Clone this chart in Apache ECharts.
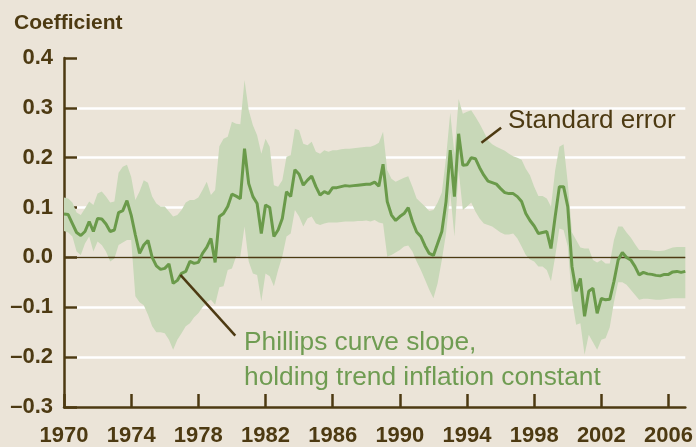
<!DOCTYPE html>
<html>
<head>
<meta charset="utf-8">
<script src="https://cdn.jsdelivr.net/npm/echarts@6/dist/echarts.min.js"></script>
<style>
  html, body { margin: 0; padding: 0; background: #ebe4d8; }
  #chart { width: 696px; height: 447px; }
</style>
</head>
<body>
<div id="chart"></div>
<script>
// quarterly estimates, 1970Q1 .. 2007Q1
const startYear = 1970
const coef = [
  0.087, 0.086, 0.068, 0.05, 0.044, 0.052, 0.072, 0.052, 0.078, 0.077,
  0.067, 0.052, 0.055, 0.09, 0.094, 0.114, 0.085, 0.045, 0.008, 0.025,
  0.034, 0, -0.017, -0.024, -0.022, -0.013, -0.052, -0.046, -0.032, -0.028,
  -0.008, -0.012, -0.01, 0.008, 0.02, 0.038, -0.01, 0.082, 0.088, 0.102,
  0.127, 0.123, 0.118, 0.218, 0.148, 0.122, 0.108, 0.048, 0.105, 0.1,
  0.042, 0.055, 0.078, 0.132, 0.122, 0.176, 0.167, 0.145, 0.155, 0.163,
  0.142, 0.125, 0.132, 0.128, 0.14, 0.14, 0.142, 0.144, 0.143, 0.144,
  0.145, 0.146, 0.147, 0.147, 0.151, 0.143, 0.187, 0.112, 0.085, 0.074,
  0.082, 0.088, 0.1, 0.072, 0.051, 0.042, 0.023, 0.008, 0.004, 0.028,
  0.052, 0.112, 0.215, 0.122, 0.248, 0.185, 0.186, 0.2, 0.198, 0.18,
  0.165, 0.153, 0.15, 0.147, 0.138, 0.13, 0.128, 0.128, 0.122, 0.112,
  0.088, 0.074, 0.063, 0.048, 0.05, 0.052, 0.018, 0.082, 0.142, 0.142,
  0.102, -0.018, -0.068, -0.042, -0.118, -0.068, -0.062, -0.112, -0.082, -0.085,
  -0.084, -0.048, -0.005, 0.01, 0, -0.005, -0.018, -0.035, -0.03, -0.033,
  -0.034, -0.036, -0.037, -0.034, -0.034, -0.029, -0.028, -0.03, -0.028
]
// standard-error band, upper and lower edges
const upper = [
  0.12, 0.118, 0.11, 0.09, 0.085, 0.098, 0.112, 0.105, 0.128, 0.132,
  0.122, 0.11, 0.112, 0.17, 0.182, 0.186, 0.162, 0.115, 0.132, 0.155,
  0.15, 0.122, 0.108, 0.102, 0.102, 0.092, 0.082, 0.085, 0.095, 0.11,
  0.115, 0.115, 0.12, 0.135, 0.152, 0.125, 0.135, 0.223, 0.238, 0.242,
  0.272, 0.268, 0.267, 0.356, 0.295, 0.265, 0.245, 0.208, 0.238, 0.222,
  0.145, 0.142, 0.155, 0.202, 0.205, 0.258, 0.255, 0.228, 0.225, 0.232,
  0.212, 0.208, 0.215, 0.212, 0.215, 0.215, 0.217, 0.218, 0.218, 0.219,
  0.22, 0.221, 0.222, 0.222, 0.225, 0.23, 0.252, 0.175, 0.158, 0.152,
  0.156, 0.16, 0.163, 0.142, 0.118, 0.11, 0.102, 0.093, 0.095, 0.11,
  0.13, 0.2, 0.29, 0.208, 0.318, 0.288, 0.292, 0.295, 0.282, 0.268,
  0.252, 0.235, 0.227, 0.222, 0.218, 0.214, 0.208, 0.203, 0.2, 0.196,
  0.178, 0.165, 0.142, 0.123, 0.123, 0.118, 0.102, 0.175, 0.222, 0.227,
  0.15, 0.05, 0.035, 0.02, 0.018, 0.018, -0.005, -0.01, -0.005, -0.012,
  -0.012, 0.035, 0.062, 0.062, 0.05, 0.04, 0.027, 0.015, 0.015, 0.015,
  0.014, 0.013, 0.013, 0.014, 0.017, 0.02, 0.021, 0.021, 0.021
]
const lower = [
  0.053, 0.05, 0.042, 0.012, 0.005, 0.028, 0.042, 0.012, 0.032, 0.025,
  0.012, -0.008, -0.002, 0.025, 0.03, 0.035, 0.035, -0.078, -0.09, -0.096,
  -0.115, -0.138, -0.15, -0.15, -0.152, -0.165, -0.185, -0.165, -0.152, -0.138,
  -0.132, -0.12, -0.112, -0.1, -0.09, -0.085, -0.095, -0.06, -0.058, -0.025,
  -0.022, 0.002, 0.002, 0.062, -0.008, -0.032, -0.035, -0.088, -0.032, -0.038,
  -0.058, -0.025, 0.002, 0.042, 0.048, 0.095, 0.082, 0.062, 0.078, 0.082,
  0.068, 0.065, 0.068, 0.07, 0.07, 0.07, 0.071, 0.072, 0.072, 0.072,
  0.073, 0.073, 0.074, 0.072, 0.075, 0.07, 0.068, 0.002, 0.005, 0.01,
  0.015, 0.022, 0.024, 0.012, -0.008, -0.025, -0.045, -0.065, -0.082, -0.052,
  -0.005, 0.048, 0.13, 0.042, 0.175, 0.095, 0.102, 0.11, 0.092, 0.078,
  0.068, 0.065, 0.062, 0.056, 0.05, 0.046, 0.046, 0.048, 0.038, 0.022,
  0.005, -0.004, -0.008, -0.018, -0.018, -0.025, -0.048, 0.002, 0.058, 0.055,
  0.022, -0.085, -0.135, -0.132, -0.195, -0.155, -0.17, -0.185, -0.165, -0.162,
  -0.14, -0.09, -0.05, -0.05, -0.055, -0.065, -0.075, -0.085, -0.083, -0.083,
  -0.084, -0.085, -0.085, -0.084, -0.083, -0.082, -0.082, -0.082, -0.082
]
const tickYears = [1970, 1974, 1978, 1982, 1986, 1990, 1994, 1998, 2002, 2006]
const endYear = 2007

const brown = '#4d3a12'
const green = '#6a9a4a'
const bandColor = '#c8d8b8'
const labelFont = "'Liberation Sans', Arial, sans-serif"

// x axis runs in years since 1970
const at = year => year - startYear
const t = coef.map((_, i) => i / 4)
// [t, lower, upper]
const bandData = coef.map((_, i) => [t[i], lower[i], upper[i]])
const coefData = coef.map((v, i) => [t[i], v])
const tickOffsets = tickYears.map(at)

const chart = echarts.init(document.getElementById('chart'))

// whole band as one polygon, drawn once through the axes' scales
const renderBand = (params, api) => {
  if (params.dataIndex !== 0) return null
  const top = bandData.map(d => api.coord([d[0], d[2]]))
  const bottom = bandData.map(d => api.coord([d[0], d[1]])).reverse()
  return {
    type: 'polygon',
    shape: { points: top.concat(bottom) },
    style: { fill: bandColor, stroke: null },
    silent: true
  }
}

const option = {
  backgroundColor: '#ebe4d8',
  animation: false,
  grid: { left: 64, right: 9, top: 58, bottom: 39, containLabel: false },
  xAxis: {
    type: 'value',
    min: 0,
    max: at(endYear),
    axisLine: { onZero: false, lineStyle: { color: brown, width: 2.5 } },
    axisTick: {
      customValues: tickOffsets,
      inside: true,
      length: 13,
      lineStyle: { color: brown, width: 2.5 }
    },
    axisLabel: {
      customValues: tickOffsets,
      margin: 18,
      color: brown,
      fontFamily: labelFont,
      fontWeight: 'bold',
      fontSize: 22,
      formatter: v => String(startYear + v)
    },
    splitLine: { show: false }
  },
  yAxis: {
    type: 'value',
    min: -0.3,
    max: 0.4,
    interval: 0.1,
    axisLine: { show: true, onZero: false, lineStyle: { color: brown, width: 2.5 } },
    axisTick: { show: true, inside: true, length: 13, lineStyle: { color: brown, width: 2.5 } },
    axisLabel: {
      margin: 11,
      color: brown,
      fontFamily: labelFont,
      fontWeight: 'bold',
      fontSize: 22,
      formatter: v => (v < -1e-9 ? '\u2013' : '') + Math.abs(v).toFixed(1)
    },
    splitLine: {
      show: true,
      showMinLine: false,
      showMaxLine: false,
      lineStyle: { color: '#ffffff', width: 2.5 }
    }
  },
  graphic: [
    {
      type: 'text', left: 14, top: 13,
      style: { text: 'Coefficient', fill: brown, font: "bold 21px 'Liberation Sans', Arial, sans-serif" }
    },
    {
      type: 'text', left: 508, top: 108,
      style: { text: 'Standard error', fill: brown, font: "26px " + labelFont }
    },
    {
      type: 'text', left: 244, top: 325,
      style: {
        text: 'Phillips curve slope,\nholding trend inflation constant',
        fill: '#6f9c52',
        font: "26.3px " + labelFont,
        lineHeight: 35
      }
    }
  ],
  series: [
    {
      name: 'Standard error',
      type: 'custom',
      data: bandData,
      encode: { x: 0, y: [1, 2] },
      renderItem: renderBand,
      silent: true,
      z: 2,
      markLine: {
        silent: true,
        symbol: 'none',
        z: 3,
        label: { show: false },
        lineStyle: { color: brown, width: 1.3, type: 'solid' },
        data: [{ yAxis: 0 }]
      }
    },
    {
      name: 'Phillips curve slope',
      type: 'line',
      data: coefData,
      symbol: 'none',
      lineStyle: { color: green, width: 3 },
      z: 4,
      markLine: {
        silent: true,
        symbol: 'none',
        z: 5,
        label: { show: false },
        lineStyle: { color: brown, width: 2.5, type: 'solid' },
        data: [
          [{ coord: [at(1994.86), 0.23] }, { coord: [at(1996.03), 0.26] }],
          [{ coord: [at(1976.93), -0.035] }, { coord: [at(1980.2), -0.157] }]
        ]
      }
    }
  ]
}

chart.setOption(option)
</script>
</body>
</html>
